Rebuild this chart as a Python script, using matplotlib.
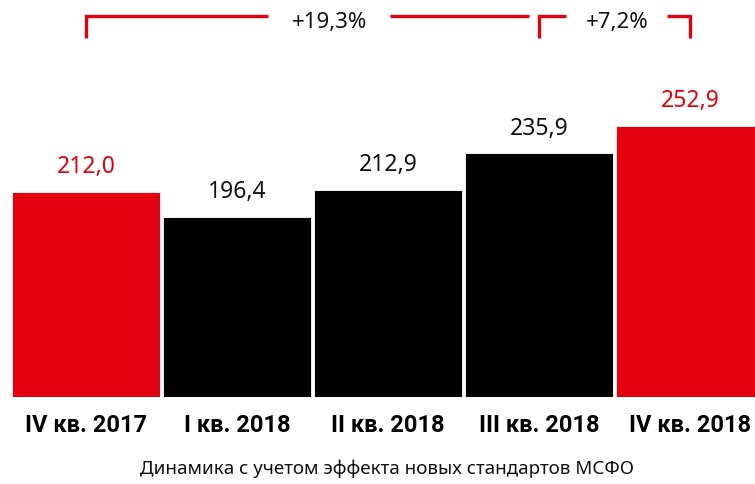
import matplotlib
matplotlib.use("Agg")
import matplotlib.pyplot as plt

plt.rcParams['font.family'] = ['Noto Sans', 'DejaVu Sans']

quarters = ['IV кв. 2017', 'I кв. 2018', 'II кв. 2018', 'III кв. 2018', 'IV кв. 2018']
values = [212.0, 196.4, 212.9, 235.9, 252.9]
highlight = [True, False, False, False, True]
growth_labels = ['+19,3%', '+7,2%']
subtitle = 'Динамика с учетом эффекта новых стандартов МСФО'

RED = '#e3000f'
colors = [RED if h else 'black' for h in highlight]
label_colors = [RED if h else '#111111' for h in highlight]

fig = plt.figure(figsize=(7.55, 4.84), dpi=100)
ax = fig.add_axes([0, 1 - 397 / 484, 1, 397 / 484])

x = list(range(len(values)))
ax.bar(x, values, width=0.98, color=colors, edgecolor='white', linewidth=0.6)

ax.set_xlim(-0.57, 4.43)
ax.set_ylim(84.1, 331.5)

for xi, v, c in zip(x, values, label_colors):
    ax.text(xi, v + 15.5, f'{v:.1f}'.replace('.', ','), ha='center', va='center',
            fontsize=16.5, color=c)

for xi, q in zip(x, quarters):
    ax.text(xi, 84.1 - 18, q, ha='center', va='center', fontsize=17,
            fontweight='bold', family=['Roboto', 'DejaVu Sans'], color='black', clip_on=False)

fig.text(0.513, 1 - 469 / 484, subtitle, ha='center', va='center', fontsize=13.5,
         color='#111111')

# brackets showing growth over the year and over the last quarter
y_line, y_tip = 321.5, 307.8
kw = dict(color=RED, lw=2.4, clip_on=False, solid_capstyle='butt', solid_joinstyle='miter')
ax.plot([0, 0, 1.205], [y_tip, y_line, y_line], **kw)
ax.plot([2.013, 2.93], [y_line, y_line], **kw)
ax.plot([3.0, 3.0, 3.18], [y_tip, y_line, y_line], **kw)
ax.plot([3.85, 4.0, 4.0], [y_line, y_line, y_tip], **kw)
ax.text(1.61, y_line - 4, growth_labels[0], ha='center', va='center', fontsize=16, color='#111111')
ax.text(3.52, y_line - 4, growth_labels[1], ha='center', va='center', fontsize=16, color='#111111')

ax.axis('off')
fig.savefig('out.png', dpi=100, facecolor='white')
